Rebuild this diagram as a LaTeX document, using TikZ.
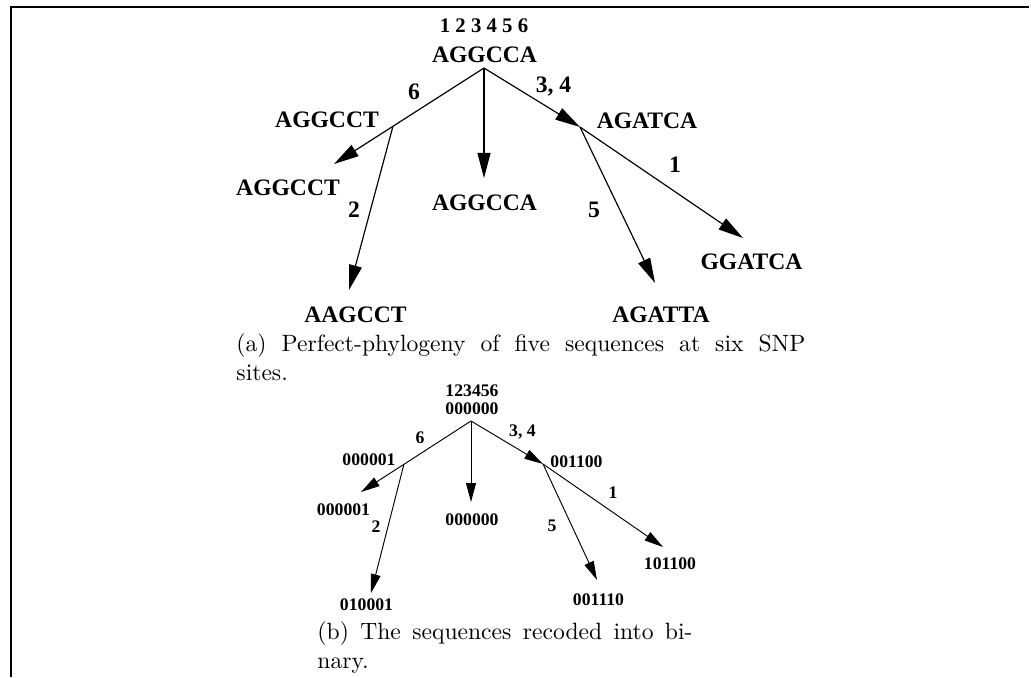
\documentclass[tikz,border=0pt]{standalone}
\usepackage{fontspec}
\newfontfamily\figfont{Liberation Serif}
\usetikzlibrary{arrows.meta,calc}

\begin{document}
\begin{tikzpicture}[x=0.42373pt,y=-0.42373pt,
  seq/.style={font=\figfont\bfseries\fontsize{10}{12}\selectfont, inner sep=0pt, anchor=base},
  sites/.style={font=\figfont\bfseries\fontsize{8.8}{10}\selectfont, inner sep=0pt, anchor=base},
  bits/.style={font=\figfont\bfseries\fontsize{7.5}{9}\selectfont, inner sep=0pt, anchor=base},
  mut/.style={line width=0.5pt, -{Triangle[length=10.6pt,width=5.5pt]}},
  mutsmall/.style={line width=0.4pt, -{Triangle[length=8pt,width=4.2pt]}},
  legend/.style={inner sep=0pt, anchor=base west, align=left, font=\fontsize{10}{12}\selectfont}
]
\useasboundingbox (0,0) rectangle (1031,677);

% frame
\draw[line width=0.9pt] (1029,7) -- (11,7) -- (11,677);

% ---------- (a) nucleotide tree ----------
\coordinate (aroot) at (484,68);
\coordinate (aleftend) at (334,164);
\coordinate (aleftfork) at ($(aroot)!0.607!(aleftend)$);
\coordinate (alowleft) at (349,290);
\coordinate (amid) at (484,178);
\coordinate (arightfork) at (580,127);
\coordinate (afarright) at (743,238);
\coordinate (alowright) at (655,283);

\node[sites] (asites) at (484,32) {1 2 3 4 5 6};
\node[seq] (arootlab) at (484.5,62) {AGGCCA};
\node[seq] (aforkL) at (327,127) {AGGCCT};
\node[seq] (aleafA) at (288,195) {AGGCCT};
\node[seq] (aleafB) at (355.5,322) {AAGCCT};
\node[seq] (aleafC) at (484.5,210) {AGGCCA};
\node[seq] (aforkR) at (647,128) {AGATCA};
\node[seq] (aleafD) at (751.5,269) {GGATCA};
\node[seq] (aleafE) at (661,322) {AGATTA};

\node[seq] (am6) at (414,99) {6};
\node[seq] (am2) at (354,217) {2};
\node[seq] (am34) at (553.5,92) {3, 4};
\node[seq] (am1) at (675,172) {1};
\node[seq] (am5) at (594,217) {5};

\draw[mut] (aroot) -- (aleftend);
\draw[mut] (aleftfork) -- (alowleft);
\draw[mut] (aroot) -- (amid);
\draw[mut] (aroot) -- (arightfork);
\draw[mut] (arightfork) -- (afarright);
\draw[mut] (arightfork) -- (alowright);

% the base anchor of a two-line node sits on its last line
\node[legend] (acap) at (236,380)
  {\makebox[241.1pt][s]{(a) Perfect-phylogeny of five sequences at six SNP}\\sites.};

% ---------- (b) binary tree ----------
\coordinate (broot) at (471,421);
\coordinate (bleftend) at (361,492);
\coordinate (bleftfork) at ($(broot)!0.61!(bleftend)$);
\coordinate (blowleft) at (371,593);
\coordinate (bmid) at (471,502);
\coordinate (brightfork) at (543,464);
\coordinate (bfarright) at (663,547);
\coordinate (blowright) at (597,580);

\node[bits] (bsites) at (472,396) {123456};
\node[bits] (brootlab) at (472,414) {000000};
\node[bits] (bforkL) at (369,465) {000001};
\node[bits] (bleafA) at (343.5,515) {000001};
\node[bits] (bleafB) at (366.5,610) {010001};
\node[bits] (bleafC) at (472,525) {000000};
\node[bits] (bforkR) at (576.5,467) {001100};
\node[bits] (bleafD) at (670,569) {101100};
\node[bits] (bleafE) at (598.5,605) {001110};

\node[bits] (bm6) at (420,443) {6};
\node[bits] (bm2) at (376,532) {2};
\node[bits] (bm34) at (522.5,436) {3, 4};
\node[bits] (bm1) at (613,498) {1};
\node[bits] (bm5) at (552,531) {5};

\draw[mutsmall] (broot) -- (bleftend);
\draw[mutsmall] (bleftfork) -- (blowleft);
\draw[mutsmall] (broot) -- (bmid);
\draw[mutsmall] (broot) -- (brightfork);
\draw[mutsmall] (brightfork) -- (bfarright);
\draw[mutsmall] (brightfork) -- (blowright);

\node[legend] (bcap) at (317,668)
  {\makebox[158.9pt][s]{(b) The sequences recoded into bi-}\\nary.};
\end{tikzpicture}
\end{document}
